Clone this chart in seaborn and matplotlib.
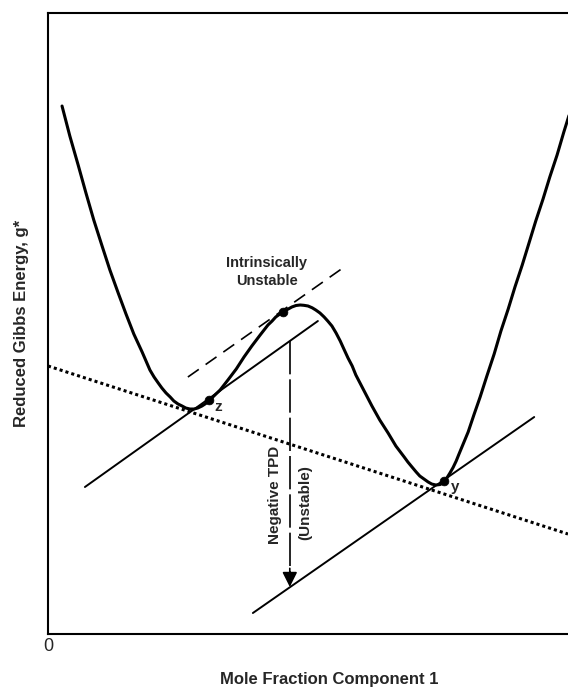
import numpy as np
import pandas as pd
import seaborn as sns
import matplotlib
matplotlib.use("Agg")
import matplotlib.pyplot as plt

# curva de energia de Gibbs reducida
x_frac = [0.027, 0.042, 0.058, 0.073, 0.088, 0.104, 0.119, 0.135, 0.150, 0.165,
          0.181, 0.196, 0.204, 0.212, 0.219, 0.227, 0.235, 0.242, 0.250, 0.258,
          0.265, 0.273, 0.281, 0.288, 0.296, 0.302, 0.310, 0.315, 0.323, 0.331,
          0.346, 0.362, 0.377, 0.392, 0.408, 0.423, 0.431, 0.438, 0.446, 0.454,
          0.462, 0.469, 0.477, 0.485, 0.492, 0.500, 0.508, 0.515, 0.523, 0.531,
          0.538, 0.546, 0.554, 0.562, 0.569, 0.577, 0.585, 0.592, 0.608, 0.623,
          0.638, 0.654, 0.669, 0.685, 0.692, 0.700, 0.708, 0.715, 0.723, 0.731,
          0.738, 0.746, 0.754, 0.762, 0.767, 0.773, 0.779, 0.785, 0.790, 0.796,
          0.808, 0.819, 0.831, 0.844, 0.858, 0.871, 0.885, 0.898, 0.912, 0.925,
          0.938, 0.952, 0.965, 0.979, 0.992, 1.004]
g_red = [8.502, 8.019, 7.552, 7.101, 6.667, 6.248, 5.862, 5.491, 5.153, 4.831,
         4.541, 4.251, 4.138, 4.042, 3.961, 3.881, 3.816, 3.752, 3.704, 3.671,
         3.639, 3.623, 3.623, 3.639, 3.671, 3.704, 3.752, 3.800, 3.865, 3.929,
         4.090, 4.267, 4.461, 4.638, 4.815, 4.976, 5.040, 5.105, 5.153, 5.201,
         5.233, 5.266, 5.290, 5.298, 5.293, 5.282, 5.253, 5.217, 5.169, 5.105,
         5.040, 4.960, 4.847, 4.718, 4.589, 4.444, 4.316, 4.171, 3.913, 3.671,
         3.446, 3.237, 3.027, 2.850, 2.770, 2.689, 2.609, 2.544, 2.496, 2.448,
         2.415, 2.399, 2.407, 2.448, 2.512, 2.593, 2.681, 2.786, 2.890, 3.011,
         3.253, 3.527, 3.816, 4.155, 4.509, 4.879, 5.233, 5.588, 5.942, 6.296,
         6.651, 7.005, 7.359, 7.713, 8.084, 8.406]

# rectas tangentes (extremos)
comun_x = [0.0, 1.0]
comun_g = [4.316, 1.610]
tang_z_x = [0.071, 0.519]
tang_z_g = [2.367, 5.040]
tang_y_x = [0.394, 0.935]
tang_y_g = [0.338, 3.494]
tang_inf_x = [0.269, 0.567]
tang_inf_g = [4.138, 5.894]

# segmento TPD negativo
tpd_x = 0.465
tpd_top = 4.718
tpd_tip = 0.757

# puntos marcados
puntos_x = [0.310, 0.452, 0.762]
puntos_g = [3.768, 5.185, 2.464]

sns.set_style("white")
plt.rcParams['font.family'] = ['Liberation Sans', 'DejaVu Sans']
plt.rcParams['font.weight'] = 'bold'

fig = plt.figure(figsize=(5.68, 6.91), dpi=100)
# el eje se corta a la derecha, como en la figura original
ax = fig.add_axes([48/568, 57/691, 562/568, 621/691])

df = pd.DataFrame({'x': x_frac, 'g': g_red})
sns.lineplot(data=df, x='x', y='g', color='black', lw=2.2, estimator=None, sort=False,
             solid_joinstyle='round', ax=ax)

ax.plot(comun_x, comun_g, color='black', lw=2.2, linestyle=(0, (1, 1)), dash_capstyle='butt')
ax.plot(tang_z_x, tang_z_g, color='black', lw=1.4)
ax.plot(tang_y_x, tang_y_g, color='black', lw=1.4)
ax.plot(tang_inf_x, tang_inf_g, color='black', lw=1.2, dashes=(8, 5))

ax.plot([tpd_x, tpd_x], [tpd_top, tpd_tip + 0.15], color='black', lw=1.2, dashes=(20, 3))
ax.annotate("", xy=(tpd_x, tpd_tip), xytext=(tpd_x, tpd_tip + 0.3),
            arrowprops=dict(arrowstyle="-|>,head_length=0.9,head_width=0.45",
                            color='black', lw=1.2, shrinkA=0, shrinkB=0))

sns.scatterplot(x=puntos_x, y=puntos_g, color='black', s=40, edgecolor='black', zorder=5, ax=ax)

ax.text(0.421, 5.829, "Intrinsically\nUnstable", ha='center', va='center', fontsize=10.5, linespacing=1.35)
ax.text(0.437, 2.239, "Negative TPD", rotation=90, ha='center', va='center', fontsize=11)
ax.text(0.494, 2.110, "(Unstable)", rotation=90, ha='center', va='center', fontsize=11)
ax.text(0.327, 3.655, "z", ha='center', va='center', fontsize=11)
ax.text(0.783, 2.367, "y", ha='center', va='center', fontsize=11)

ax.set_xlim(0, 562/520)
ax.set_ylim(0, 10)
ax.set_xticks([0])
ax.set_xticklabels(["0"], fontsize=13, fontweight='normal')
ax.set_yticks([])
ax.tick_params(axis='x', length=0, pad=3)
ax.set_xlabel("Mole Fraction Component 1", fontsize=12, fontweight='bold', labelpad=12)
ax.set_ylabel("Reduced Gibbs Energy, g*", fontsize=12, fontweight='bold', labelpad=14)

for s in ['left', 'top', 'bottom']:
    ax.spines[s].set_linewidth(1.5)
    ax.spines[s].set_color('black')
ax.spines['right'].set_visible(False)

fig.savefig("out.png", dpi=100)
